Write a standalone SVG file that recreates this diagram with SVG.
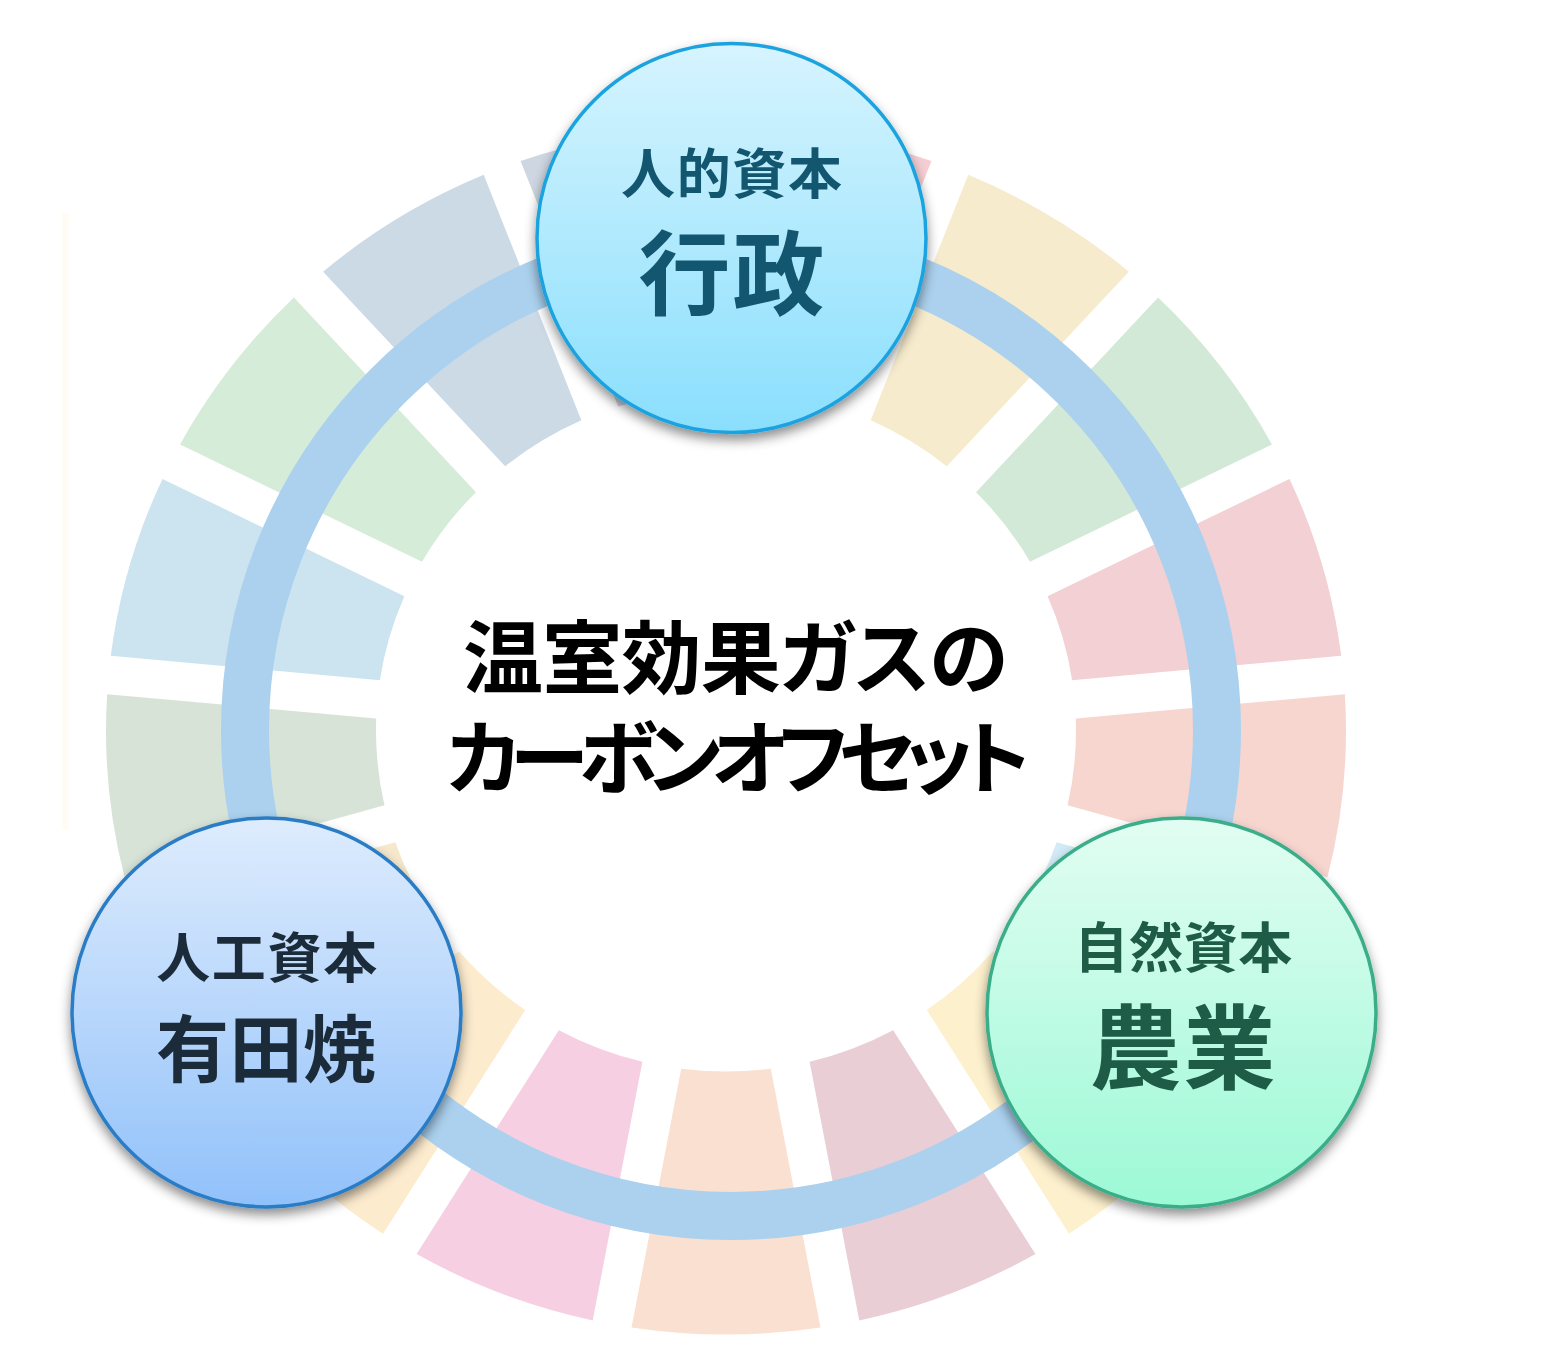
<svg xmlns="http://www.w3.org/2000/svg" xmlns:xlink="http://www.w3.org/1999/xlink" width="1545" height="1362" viewBox="0 0 1545 1362">
  <style>
    .jp { font-family: "Noto Sans CJK JP", "Noto Sans CJK SC", sans-serif; font-weight: 700; text-anchor: middle; }
    .sub { font-size: 54px; }
    .main { font-size: 92px; }
    .center { font-size: 80px; fill: #000000; font-feature-settings: "palt"; }
    .node { stroke-width: 3.5; filter: url(#sh); }
  </style>
  <defs>
    <path id="seg" d="M19.75,-619.686 A620,620 0 0 1 205.44,-584.974 L107.816,-332.98 A350,350 0 0 0 19.75,-349.442 Z"/>
    <linearGradient id="gTop" x1="0" y1="0" x2="0" y2="1">
      <stop offset="0" stop-color="#D6F4FE"/>
      <stop offset="1" stop-color="#8ADFFD"/>
    </linearGradient>
    <linearGradient id="gBL" x1="0" y1="0" x2="0" y2="1">
      <stop offset="0" stop-color="#DEECFD"/>
      <stop offset="1" stop-color="#91C1FA"/>
    </linearGradient>
    <linearGradient id="gBR" x1="0" y1="0" x2="0" y2="1">
      <stop offset="0" stop-color="#E2FDF3"/>
      <stop offset="1" stop-color="#9CF9D6"/>
    </linearGradient>
    <filter id="sh" x="-20%" y="-20%" width="140%" height="150%">
      <feDropShadow dx="0" dy="6" stdDeviation="6" flood-color="#000000" flood-opacity="0.45"/>
    </filter>
  </defs>

  <rect x="0" y="0" width="1545" height="1362" fill="#FFFFFF"/>
  <rect x="62" y="213" width="7" height="617" fill="#FFFCF5"/>

  <g id="wheel" transform="translate(726 730.7) scale(1 0.974)">
    <use xlink:href="#seg" href="#seg" transform="rotate(0)" fill="#F5CED3"/>
    <use xlink:href="#seg" href="#seg" transform="rotate(21.17647)" fill="#F6EBCC"/>
    <use xlink:href="#seg" href="#seg" transform="rotate(42.35294)" fill="#D3E9D7"/>
    <use xlink:href="#seg" href="#seg" transform="rotate(63.52941)" fill="#F2D0D4"/>
    <use xlink:href="#seg" href="#seg" transform="rotate(84.70588)" fill="#F8D6D0"/>
    <use xlink:href="#seg" href="#seg" transform="rotate(105.88235)" fill="#D2EBF6"/>
    <use xlink:href="#seg" href="#seg" transform="rotate(127.05882)" fill="#FDF0CD"/>
    <use xlink:href="#seg" href="#seg" transform="rotate(148.23529)" fill="#EACED6"/>
    <use xlink:href="#seg" href="#seg" transform="rotate(169.41176)" fill="#FAE0D0"/>
    <use xlink:href="#seg" href="#seg" transform="rotate(190.58824)" fill="#F6CFE3"/>
    <use xlink:href="#seg" href="#seg" transform="rotate(211.76471)" fill="#FDEBCE"/>
    <use xlink:href="#seg" href="#seg" transform="rotate(232.94118)" fill="#F6E8CC"/>
    <use xlink:href="#seg" href="#seg" transform="rotate(254.11765)" fill="#D8E3D8"/>
    <use xlink:href="#seg" href="#seg" transform="rotate(275.29412)" fill="#CCE3F0"/>
    <use xlink:href="#seg" href="#seg" transform="rotate(296.47059)" fill="#D5ECD8"/>
    <use xlink:href="#seg" href="#seg" transform="rotate(317.64706)" fill="#CCDAE6"/>
    <use xlink:href="#seg" href="#seg" transform="rotate(338.82353)" fill="#CDD6E1"/>
  </g>

  <g id="connectors">
    <circle cx="731" cy="730" r="486" fill="none" stroke="#ABD1EE" stroke-width="48"/>
  </g>

  <g id="node-gyosei">
    <circle class="node" cx="731.5" cy="238" r="194.5" fill="url(#gTop)" stroke="#1AA3DF"/>
    <text class="jp sub" x="731.5" y="194" fill="#13566F" textLength="221" lengthAdjust="spacing">人的資本</text>
    <text class="jp main" x="731.5" y="308" fill="#13566F" textLength="186" lengthAdjust="spacing">行政</text>
  </g>

  <g id="node-aritayaki">
    <circle class="node" cx="266.5" cy="1012.5" r="194.5" fill="url(#gBL)" stroke="#2A7CC5"/>
    <text class="jp sub" x="266.7" y="978" fill="#1C2B3A" textLength="221" lengthAdjust="spacing">人工資本</text>
    <text class="jp" x="266" y="1076" fill="#1C2B3A" font-size="73" textLength="220" lengthAdjust="spacing">有田焼</text>
  </g>

  <g id="node-nogyo">
    <circle class="node" cx="1181.5" cy="1012.5" r="194.5" fill="url(#gBR)" stroke="#3AAE89"/>
    <text class="jp sub" x="1183.3" y="968" fill="#1F5C48" textLength="218" lengthAdjust="spacing">自然資本</text>
    <text class="jp main" x="1182.5" y="1082" fill="#1F5C48" textLength="186" lengthAdjust="spacing">農業</text>
  </g>

  <g id="center-title">
    <text class="jp center" x="735.6" y="687" textLength="545" lengthAdjust="spacing">温室効果ガスの</text>
    <text class="jp center" x="738.5" y="787" textLength="584" lengthAdjust="spacing">カーボンオフセット</text>
  </g>
</svg>
